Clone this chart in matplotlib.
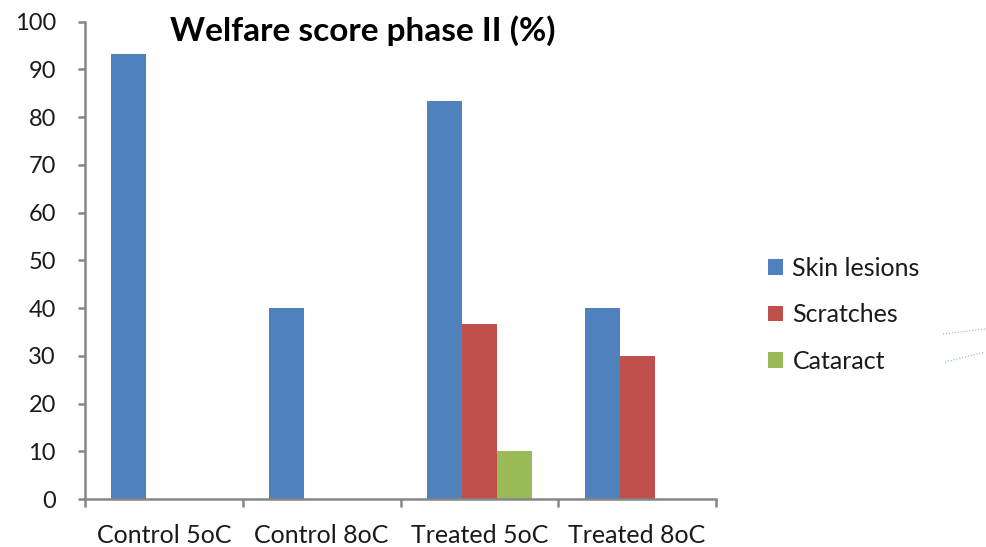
import numpy as np
import matplotlib.pyplot as plt
from matplotlib.lines import Line2D

plt.rcParams['font.family'] = ['Lato', 'DejaVu Sans']

groups = ['Control 5oC', 'Control 8oC', 'Treated 5oC', 'Treated 8oC']
series = ['Skin lesions', 'Scratches', 'Cataract']
skin = [93.3, 40, 83.3, 40]
scratches = [0, 0, 36.7, 30]
cataract = [0, 0, 10, 0]
colors = ['#4F81BD', '#C0504D', '#9BBB59']
yticks = list(range(0, 101, 10))

fig = plt.figure(figsize=(9.86, 5.47), dpi=100)
ax = fig.add_axes([85/986, 48/547, (716-85)/986, (499-21.7)/547])

x = np.arange(len(groups))
w = 0.222
handles = []
for i, (vals, col) in enumerate(zip([skin, scratches, cataract], colors)):
    b = ax.bar(x + (i - 1) * w, vals, width=w, color=col, label=series[i])
    handles.append(b)

ax.set_xlim(-0.5, 3.5)
ax.set_ylim(0, 100)
ax.set_yticks(yticks)
ax.set_xticks(np.arange(-0.5, 4, 1))
ax.set_xticklabels([])
ax.set_xticks(x, minor=True)
ax.set_xticklabels(groups, minor=True)

gray = '#868686'
txt = '#1a1a1a'
for s in ['top', 'right']:
    ax.spines[s].set_visible(False)
for s in ['left', 'bottom']:
    ax.spines[s].set_color(gray)
    ax.spines[s].set_linewidth(1.8)
ax.tick_params(axis='y', length=5, width=1.8, color=gray, pad=16, labelsize=17,
               labelcolor=txt)
ax.tick_params(axis='x', which='major', length=6, width=1.8, color=gray)
ax.tick_params(axis='x', which='minor', length=0, pad=18, labelsize=18, labelcolor=txt)

fig.text(363/986, 1 - 31/547, 'Welfare score phase II (%)', ha='center', va='center',
         fontsize=24, fontweight='bold', color='black')

leg = fig.legend(handles=handles, loc='upper left', bbox_to_anchor=(745/986, 1 - 234/547),
                 frameon=False, fontsize=18, handlelength=0.6, handleheight=0.6,
                 handletextpad=0.4, labelspacing=0.95)
for t in leg.get_texts():
    t.set_color(txt)

# faint dotted marks at the right edge of the original image
fig.add_artist(Line2D([943/986, 985/986], [1 - 334/547, 1 - 329/547],
                      color='#7fb3d5', lw=0.8, ls=':'))
fig.add_artist(Line2D([945/986, 985/986], [1 - 362/547, 1 - 352/547],
                      color='#7fb3d5', lw=0.8, ls=':'))

fig.savefig('out.png', dpi=100)
